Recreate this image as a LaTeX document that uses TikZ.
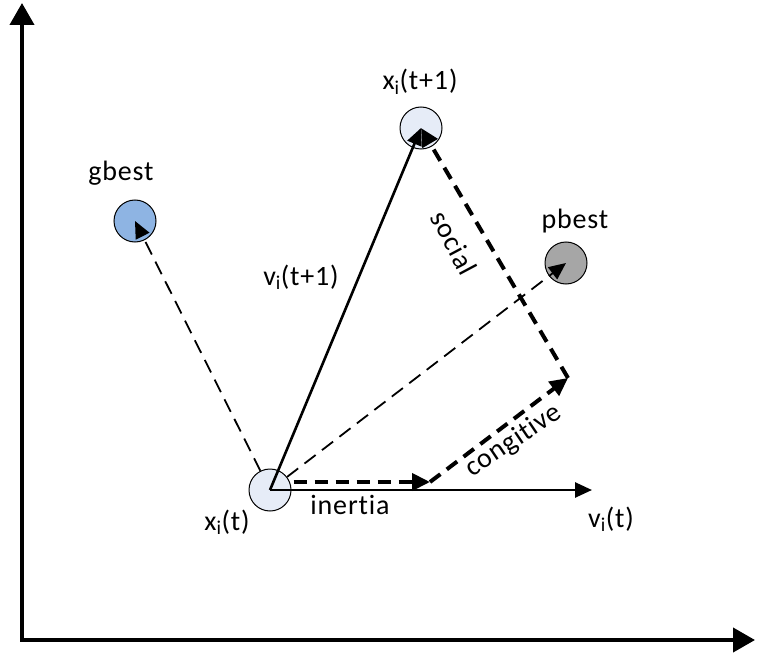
\documentclass[tikz,border=0pt]{standalone}
\usepackage{fontspec}
\setmainfont{Carlito}[LetterSpace=3, Ligatures={NoCommon}]
\usepackage{xcolor}
\usetikzlibrary{positioning, arrows.meta, calc}
\definecolor{partfill}{HTML}{E6ECF7}
\definecolor{gbestblue}{HTML}{8EB4E3}
\definecolor{pbestgray}{HTML}{A6A6A6}

\begin{document}
\begin{tikzpicture}[x=1pt, y=-1pt,
    particle/.style={circle, draw=black, line width=1pt, minimum size=42pt, inner sep=0pt},
    lbl/.style={font=\fontsize{28}{32}\selectfont, inner sep=0pt},
    axis/.style={line width=4pt, -{Triangle[length=22pt, width=24pt]}},
    vec/.style={line width=2.6pt, -{Triangle[length=17pt, width=15pt]}},
    move/.style={line width=4pt, dash pattern=on 13pt off 8pt, -{Triangle[length=18pt, width=17pt]}},
    guide/.style={line width=1.8pt, dash pattern=on 14pt off 8pt, -{Triangle[length=17pt, width=15pt]}}]
    \useasboundingbox (0,0) rectangle (757,655);

    % axes
    \coordinate (origin) at (22,640);
    \coordinate (ytop) at (22,3);
    \coordinate (xend) at (755,640);
    \draw[axis] (origin) -- (ytop);
    \draw[axis] ($(origin)+(-2,0)$) -- (xend);

    % particles
    \node[particle, fill=partfill] (xt) at (270,490) {};
    \node[particle, fill=partfill] (xt1) at (421,128) {};
    \node[particle, fill=gbestblue] (gb) at (135,221) {};
    \node[particle, fill=pbestgray] (pb) at (566,263) {};

    \coordinate (inend) at (430,482);
    \coordinate (cgend) at (568,378);
    \coordinate (vtend) at (592,490);

    % vectors
    \draw[guide] (xt) -- (gb.center);
    \draw[guide] (xt) -- (pb.center);
    \draw[vec] (xt.center) -- (vtend);
    \draw[vec] (xt.center) -- (xt1.center);
    \draw[move] ($(xt.east)+(2,-8)$) -- (inend);
    \draw[move] (inend) -- (cgend);
    \draw[move] (cgend) -- (xt1.center);

    % labels
    \node[lbl, anchor=base] (lxt1) at (420,90) {x\textsubscript{i}(t+1)};
    \node[lbl, anchor=base] (lgb) at (121,181) {gbest};
    \node[lbl, anchor=base] (lpb) at (575,228) {pbest};
    \node[lbl, rotate=-62] (lsoc) at (454,243) {social};
    \node[lbl, anchor=base] (lvt1) at (301,285) {v\textsubscript{i}(t+1)};
    \node[lbl, rotate=34] (lcog) at (514,441) {congitive};
    \node[lbl, anchor=base] (lin) at (350,514) {inertia};
    \node[lbl, anchor=base] (lxt) at (227,530) {x\textsubscript{i}(t)};
    \node[lbl, anchor=base] (lvt) at (611,527) {v\textsubscript{i}(t)};
\end{tikzpicture}
\end{document}
